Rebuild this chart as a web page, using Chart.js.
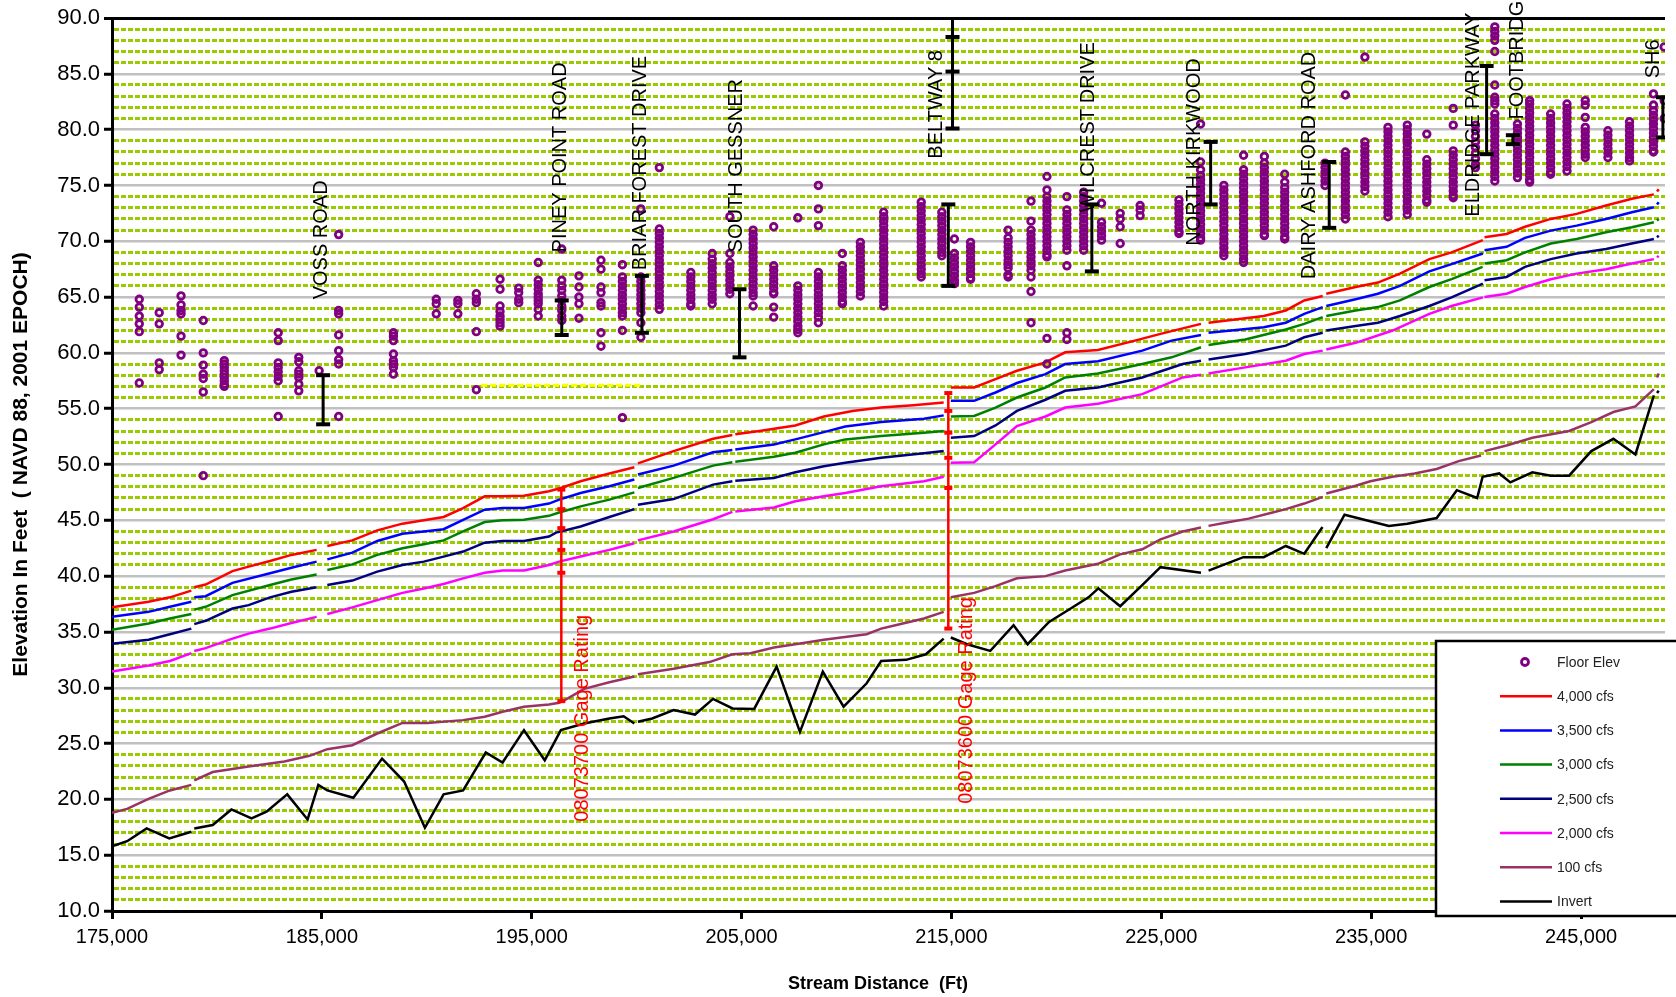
<!DOCTYPE html>
<html>
<head>
<meta charset="utf-8">
<script src="https://cdn.jsdelivr.net/npm/chart.js@4/dist/chart.umd.min.js"></script>
<style>
  html, body { margin: 0; padding: 0; background: #fff; }
  #wrap { width: 1676px; height: 997px; }
</style>
</head>
<body>
<div id="wrap"><canvas id="profile" width="1676" height="997"></canvas></div>
<script>
// stream distance ticks (ft)
const xTicks = [175000, 185000, 195000, 205000, 215000, 225000, 235000, 245000];

// floor elevations: [station, [elevations...]]
const floorElev = [
  [176300, [64.8, 64.1, 63.3, 62.6, 61.9, 57.3]],
  [177250, [63.6, 62.6, 59.1, 58.5]],
  [178290, [65.1, 64.3, 63.8, 63.5, 61.5, 59.8]],
  [179350, [62.9, 60.0, 58.9, 58.1, 57.7, 56.5, 49.0]],
  [180350, [59.3, 59.0, 58.7, 58.4, 58.1, 57.8, 57.5, 57.2, 57.0]],
  [182920, [61.8, 61.1, 59.1, 58.7, 58.3, 57.9, 57.5, 54.3]],
  [183900, [59.6, 59.2, 58.4, 58.1, 57.8, 57.2, 56.6]],
  [184870, [58.4]],
  [185800, [70.6, 63.8, 63.5, 61.6, 60.2, 59.4, 59.0, 54.3]],
  [188410, [61.8, 61.5, 61.1, 59.9, 59.3, 59.0, 58.7, 58.1]],
  [190450, [64.8, 64.4, 63.5]],
  [191480, [64.7, 64.4, 63.5]],
  [192360, [65.3, 64.8, 64.5, 61.9, 56.7]],
  [193490, [66.6, 65.7, 64.2, 63.7, 63.3, 63.0, 62.7, 62.4]],
  [194380, [65.8, 65.4, 64.8, 64.5]],
  [195310, [68.1, 66.5, 66.1, 65.7, 65.3, 65.0, 64.7, 64.4, 63.9, 63.3]],
  [196430, [69.3, 66.5, 66.0, 65.6, 65.1, 64.7, 64.2, 63.8, 63.3, 62.9]],
  [197250, [66.9, 65.9, 65.0, 64.4, 63.1]],
  [198300, [68.3, 67.5, 65.9, 65.4, 64.5, 64.2, 61.8, 60.6]],
  [199320, [67.9, 66.8, 66.4, 66.0, 65.6, 65.2, 64.8, 64.4, 64.0, 63.6, 63.3, 62.0, 54.2]],
  [200200, [72.9, 66.8, 66.4, 66.0, 65.6, 65.2, 64.8, 64.4, 64.0, 63.6, 62.7, 61.4]],
  [201080, [76.6, 71.1, 70.7, 70.3, 69.9, 69.5, 69.1, 68.7, 68.3, 67.9, 67.5, 67.1, 66.7, 66.3, 65.9, 65.5, 65.1, 64.7, 64.3, 63.9]],
  [202580, [67.2, 66.8, 66.4, 66.0, 65.6, 65.2, 64.8, 64.4, 64.2]],
  [203600, [68.9, 68.4, 68.0, 67.6, 67.2, 66.8, 66.4, 66.0, 65.6, 65.2, 64.8, 64.4]],
  [204440, [72.2, 68.9, 68.1, 67.7, 67.3, 66.9, 66.5, 66.1, 65.7, 65.3]],
  [205550, [71.0, 70.6, 70.2, 69.8, 69.4, 69.0, 68.6, 68.2, 67.8, 67.4, 67.0, 66.6, 66.2, 65.8, 65.4, 65.1, 64.2]],
  [206530, [71.3, 67.8, 67.4, 67.0, 66.6, 66.2, 65.8, 65.4, 65.3, 64.1, 63.2]],
  [207680, [72.1, 66.0, 65.6, 65.2, 64.8, 64.4, 64.0, 63.6, 63.2, 62.8, 62.4, 62.1, 61.8]],
  [208660, [75.0, 72.9, 71.4, 67.2, 66.8, 66.4, 66.0, 65.6, 65.2, 64.8, 64.4, 64.0, 63.6, 63.2, 62.7]],
  [209800, [68.9, 67.8, 67.4, 67.0, 66.6, 66.2, 65.8, 65.4, 65.0, 64.6, 64.4]],
  [210660, [69.9, 69.5, 69.1, 68.7, 68.3, 67.9, 67.5, 67.1, 66.7, 66.3, 65.9, 65.5, 65.1]],
  [211770, [72.6, 72.2, 71.8, 71.4, 71.0, 70.6, 70.2, 69.8, 69.4, 69.0, 68.6, 68.2, 67.8, 67.4, 67.0, 66.6, 66.2, 65.8, 65.4, 65.0, 64.6, 64.2]],
  [213560, [73.5, 73.1, 72.7, 72.3, 71.9, 71.5, 71.1, 70.7, 70.3, 69.9, 69.5, 69.1, 68.7, 68.3, 67.9, 67.5, 67.1, 66.8]],
  [214540, [72.6, 72.2, 71.8, 71.4, 71.0, 70.6, 70.2, 69.8, 69.4, 69.0, 68.7]],
  [215140, [70.2, 68.9, 68.5, 68.1, 67.7, 67.3, 66.9, 66.5, 66.2]],
  [215910, [69.9, 69.5, 69.1, 68.7, 68.3, 67.9, 67.5, 67.1, 66.7, 66.6]],
  [217700, [71.0, 70.3, 69.9, 69.5, 69.1, 68.7, 68.3, 67.9, 67.6, 67.0, 66.8]],
  [218790, [73.6, 71.8, 71.0, 70.6, 70.2, 69.8, 69.4, 69.0, 68.6, 68.2, 67.8, 67.4, 66.8, 65.5, 62.7]],
  [219550, [75.8, 74.6, 74.0, 73.6, 73.2, 72.8, 72.4, 72.0, 71.6, 71.2, 70.8, 70.4, 70.0, 69.6, 69.2, 68.8, 68.6, 61.3, 59.0]],
  [220500, [74.0, 72.8, 72.4, 72.0, 71.6, 71.2, 70.8, 70.4, 70.0, 69.6, 69.2, 67.8, 61.8, 61.2]],
  [221300, [74.4, 74.0, 73.6, 73.2, 72.8, 72.4, 72.0, 71.6, 71.2, 70.8, 70.4, 70.0, 69.6, 69.2]],
  [222150, [73.4, 71.7, 71.3, 70.9, 70.5, 70.1]],
  [223040, [72.5, 72.0, 71.3, 69.8]],
  [223990, [73.2, 72.8, 72.3]],
  [225840, [73.7, 73.3, 72.9, 72.5, 72.1, 71.7, 71.3, 70.9, 70.7]],
  [226870, [80.5, 77.1, 76.4, 75.9, 75.5, 75.1, 74.7, 74.3, 73.9, 73.5, 73.1, 72.7, 72.3, 71.9, 71.5, 71.1, 70.7, 70.3, 70.1]],
  [227980, [75.0, 74.6, 74.2, 73.8, 73.4, 73.0, 72.6, 72.2, 71.8, 71.4, 71.0, 70.6, 70.2, 69.8, 69.4, 69.0, 68.7]],
  [228920, [77.7, 76.4, 76.0, 75.6, 75.2, 74.8, 74.4, 74.0, 73.6, 73.2, 72.8, 72.4, 72.0, 71.6, 71.2, 70.8, 70.4, 70.0, 69.6, 69.2, 68.8, 68.4, 68.1]],
  [229910, [77.6, 77.0, 76.6, 76.2, 75.8, 75.4, 75.0, 74.6, 74.2, 73.8, 73.4, 73.0, 72.6, 72.2, 71.8, 71.4, 71.0, 70.6, 70.5]],
  [230880, [76.0, 75.3, 74.8, 74.4, 74.0, 73.6, 73.2, 72.8, 72.4, 72.0, 71.6, 71.2, 70.8, 70.4, 70.2]],
  [232800, [77.0, 76.6, 76.2, 75.8, 75.4, 75.0]],
  [233770, [83.1, 78.0, 77.6, 77.2, 76.8, 76.4, 76.0, 75.6, 75.2, 74.8, 74.4, 74.0, 73.6, 73.2, 72.8, 72.4, 72.0]],
  [234700, [86.5, 78.9, 78.5, 78.1, 77.7, 77.3, 76.9, 76.5, 76.1, 75.7, 75.3, 74.9, 74.5]],
  [235800, [80.2, 79.8, 79.4, 79.0, 78.6, 78.2, 77.8, 77.4, 77.0, 76.6, 76.2, 75.8, 75.4, 75.0, 74.6, 74.2, 73.8, 73.4, 73.0, 72.6, 72.2]],
  [236720, [80.4, 80.0, 79.6, 79.2, 78.8, 78.4, 78.0, 77.6, 77.2, 76.8, 76.4, 76.0, 75.6, 75.2, 74.8, 74.4, 74.0, 73.6, 73.2, 72.8, 72.4]],
  [237650, [79.6, 77.3, 76.9, 76.5, 76.1, 75.7, 75.3, 74.9, 74.5, 74.1, 73.7, 73.5]],
  [238910, [81.9, 80.4, 78.1, 77.7, 77.3, 76.9, 76.5, 76.1, 75.7, 75.3, 74.9, 74.5, 74.1, 73.9]],
  [239970, [80.4, 79.9, 79.4, 78.9, 78.4, 77.9, 77.4, 76.9, 76.6]],
  [240890, [89.2, 88.8, 88.4, 88.0, 87.0, 84.0, 82.9, 82.6, 82.3, 81.4, 81.0, 80.6, 80.2, 79.8, 79.4, 79.0, 78.6, 78.2, 77.8, 77.4, 77.0, 76.6, 76.2, 75.8, 75.4]],
  [241970, [80.5, 80.1, 79.7, 79.3, 78.9, 78.5, 78.1, 77.7, 77.3, 76.9, 76.5, 76.1, 75.7]],
  [242550, [82.6, 82.3, 81.9, 81.5, 81.1, 80.7, 80.3, 79.9, 79.5, 79.1, 78.7, 78.3, 77.9, 77.5, 77.1, 76.7, 76.3, 75.9, 75.5, 75.3]],
  [243550, [81.4, 81.0, 80.6, 80.2, 79.8, 79.4, 79.0, 78.6, 78.2, 77.8, 77.4, 77.0, 76.6, 76.2, 76.0]],
  [244330, [82.3, 81.9, 81.5, 81.1, 80.7, 80.3, 79.9, 79.5, 79.1, 78.7, 78.3, 77.9, 77.5, 77.1, 76.7, 76.3]],
  [245200, [82.6, 82.2, 81.1, 80.2, 79.8, 79.4, 79.0, 78.6, 78.2, 77.8, 77.5]],
  [246280, [79.9, 79.5, 79.1, 78.7, 78.3, 77.9, 77.5]],
  [247310, [80.7, 80.3, 79.9, 79.5, 79.1, 78.7, 78.3, 77.9, 77.5, 77.2]],
  [248450, [83.2, 82.2, 81.7, 81.3, 80.9, 80.5, 80.1, 79.7, 79.3, 78.9, 78.5, 78.1, 78.0]],
  [248960, [87.4, 82.6, 81.0]]
];

// water surface profiles [station, elevation]; null = break in profile
const flow4000 = [[175000,37.2],[176740,37.7],[177760,38.1],[178780,38.7],[178850,null],[178920,39.0],[179460,39.25],[180740,40.45],[181510,40.85],[182530,41.35],[183550,41.9],[184750,42.35],[184850,null],[185260,42.7],[186450,43.2],[187640,44.1],[188840,44.7],[189860,45.0],[190800,45.3],[191730,46.1],[192760,47.15],[193610,47.15],[194630,47.2],[195820,47.6],[196310,47.85],[197330,48.5],[198700,49.2],[199890,49.75],[199975,null],[200060,50.1],[201760,51.2],[203640,52.3],[204560,52.65],[204625,null],[204700,52.7],[205850,53.0],[207560,53.5],[208920,54.3],[210280,54.8],[211650,55.1],[213180,55.3],[214630,55.55],[214800,null],[214970,56.9],[216080,56.9],[217100,57.65],[218120,58.4],[219480,59.15],[220420,60.05],[221980,60.25],[223740,61.1],[224960,61.7],[226890,62.6],[227070,null],[227250,62.7],[229880,63.3],[230930,63.8],[231810,64.7],[232690,65.1],[232780,null],[232860,65.3],[234260,65.9],[235320,66.3],[236370,67.1],[237770,68.4],[238830,69.0],[240320,70.1],[240360,null],[240400,70.35],[241450,70.65],[242330,71.3],[243560,72.0],[244790,72.45],[246190,73.2],[247420,73.8],[248470,74.2],[248560,null],[248620,74.45],[248700,74.65]];
const flow3500 = [[175000,36.35],[176740,36.8],[177760,37.25],[178780,37.7],[178850,null],[178920,38.1],[179460,38.2],[180740,39.4],[182530,40.25],[183550,40.75],[184750,41.3],[184850,null],[185260,41.5],[186450,42.1],[187640,43.15],[188840,43.8],[189860,44.0],[190800,44.2],[191730,45.05],[192760,45.95],[193610,46.1],[194630,46.1],[195820,46.5],[196310,46.85],[197330,47.45],[198700,48.05],[199890,48.65],[199975,null],[200060,49.1],[201760,49.9],[203640,51.1],[204560,51.3],[204625,null],[204700,51.35],[206540,51.8],[207560,52.25],[208920,52.9],[209940,53.4],[211650,53.8],[213690,54.1],[214630,54.4],[214800,null],[214970,55.7],[216080,55.7],[217100,56.45],[218120,57.3],[219480,58.1],[220420,59.0],[221980,59.25],[224090,60.2],[225490,61.1],[226890,61.6],[227070,null],[227250,61.8],[229880,62.3],[230930,62.7],[231810,63.5],[232690,64.1],[232780,null],[232860,64.2],[234260,64.8],[235320,65.3],[236370,66.0],[237770,67.3],[238830,67.95],[240320,68.9],[240360,null],[240400,69.2],[241450,69.5],[242330,70.3],[243560,70.95],[244790,71.4],[246190,72.0],[247420,72.6],[248470,73.05],[248560,null],[248620,73.3],[248700,73.5]];
const flow3000 = [[175000,35.2],[176740,35.75],[177760,36.2],[178780,36.6],[178850,null],[178920,37.0],[179460,37.25],[180740,38.3],[182530,39.2],[183550,39.7],[184750,40.15],[184850,null],[185260,40.55],[186450,41.05],[187640,41.9],[188840,42.5],[189860,42.85],[190800,43.2],[191730,44.0],[192760,44.85],[193610,45.0],[194630,45.05],[195820,45.4],[196310,45.7],[197330,46.25],[198700,46.85],[199890,47.5],[199975,null],[200060,47.9],[201760,48.8],[203640,49.9],[204560,50.2],[204625,null],[204700,50.25],[206540,50.7],[207560,51.05],[208920,51.8],[209940,52.25],[211650,52.55],[213690,52.85],[214630,53.0],[214800,null],[214970,54.3],[216080,54.35],[217100,55.1],[218120,56.0],[219480,56.9],[220420,57.8],[221980,58.15],[224090,59.0],[225490,59.6],[226890,60.5],[227070,null],[227250,60.7],[229000,61.2],[230930,62.1],[231810,62.6],[232690,63.2],[232780,null],[232860,63.3],[234260,63.8],[235320,64.1],[236370,64.7],[237770,65.9],[238830,66.6],[240310,67.7],[240360,null],[240400,68.0],[241450,68.3],[242330,69.0],[243560,69.8],[244790,70.2],[246190,70.8],[247420,71.25],[248470,71.7],[248560,null],[248620,71.85],[248700,72.0]];
const flow2500 = [[175000,33.95],[176740,34.3],[177760,34.8],[178780,35.3],[178850,null],[178920,35.7],[179460,36.0],[180740,37.1],[181510,37.4],[182530,38.1],[183550,38.6],[184750,39.0],[184850,null],[185260,39.2],[186450,39.6],[187640,40.4],[188840,41.0],[189860,41.3],[190800,41.75],[191730,42.2],[192760,43.0],[193610,43.15],[194630,43.15],[195820,43.55],[196160,43.9],[197330,44.45],[198700,45.3],[199890,46.0],[199975,null],[200060,46.4],[201760,46.9],[203640,48.2],[204560,48.5],[204625,null],[204700,48.55],[206540,48.8],[207560,49.3],[208920,49.85],[209940,50.15],[211650,50.6],[213690,51.0],[214630,51.2],[214800,null],[214970,52.4],[216080,52.55],[217100,53.5],[218120,54.8],[219480,55.8],[220420,56.6],[221980,56.9],[224090,57.8],[226020,59.0],[226890,59.3],[227070,null],[227250,59.4],[229000,59.9],[230930,60.65],[231810,61.4],[232690,61.8],[232780,null],[232860,62.0],[234260,62.4],[235320,62.7],[236370,63.3],[237770,64.2],[238830,64.97],[240320,66.2],[240360,null],[240400,66.5],[241450,66.8],[242330,67.7],[243560,68.4],[244790,68.9],[246190,69.3],[247420,69.8],[248470,70.2],[248560,null],[248620,70.35],[248700,70.5]];
const flow2000 = [[175000,31.45],[176740,32.0],[177760,32.4],[178780,33.1],[178850,null],[178920,33.3],[179460,33.55],[180740,34.4],[181510,34.85],[182530,35.3],[183550,35.8],[184750,36.35],[184850,null],[185260,36.6],[186450,37.2],[187640,37.85],[188840,38.5],[189860,38.9],[190800,39.3],[191730,39.8],[192760,40.3],[193610,40.5],[194630,40.5],[195820,41.0],[196310,41.3],[197330,41.75],[198700,42.35],[199890,42.95],[199975,null],[200060,43.2],[201760,44.0],[203640,45.1],[204560,45.75],[204625,null],[204700,45.8],[206540,46.15],[207560,46.7],[208920,47.15],[209940,47.45],[211650,48.05],[213690,48.5],[214630,48.9],[214800,null],[214970,50.15],[216080,50.2],[217100,51.8],[218120,53.45],[219480,54.3],[220420,55.1],[221980,55.45],[224090,56.3],[226020,57.8],[226890,58.05],[227070,null],[227250,58.15],[229000,58.7],[230930,59.3],[231810,59.9],[232690,60.2],[232780,null],[232860,60.3],[234260,60.9],[236020,62.0],[237770,63.5],[238830,64.2],[240320,64.97],[240360,null],[240400,65.0],[241450,65.3],[242330,65.9],[243560,66.6],[244790,67.1],[246190,67.5],[247420,68.0],[248470,68.4],[248560,null],[248620,68.55],[248700,68.7]];
const flow100 = [[175000,18.8],[175720,19.15],[176740,20.05],[177760,20.8],[178780,21.3],[178850,null],[178920,21.7],[179800,22.45],[181510,22.95],[183210,23.4],[184410,23.9],[185260,24.5],[186450,24.85],[187640,25.9],[188840,26.85],[190030,26.85],[191730,27.1],[192760,27.4],[193610,27.85],[194630,28.3],[195820,28.5],[196310,28.65],[196720,29.05],[197500,29.9],[198700,30.5],[199890,31.0],[199975,null],[200060,31.2],[201760,31.7],[203470,32.3],[204560,33.0],[205420,33.1],[206540,33.6],[207560,33.9],[208920,34.3],[210110,34.6],[210960,34.8],[211650,35.3],[212330,35.6],[213690,36.2],[214630,36.8],[214800,null],[214970,38.1],[216080,38.5],[217100,39.1],[218120,39.8],[219480,40.0],[220420,40.5],[221980,41.1],[223040,41.95],[224090,42.4],[224960,43.3],[226020,44.0],[226890,44.35],[227070,null],[227250,44.5],[228110,44.8],[229160,45.15],[230210,45.65],[230930,46.0],[231810,46.5],[232690,47.1],[232780,null],[232860,47.4],[234260,48.1],[234960,48.5],[236020,48.9],[237070,49.2],[238120,49.6],[239170,50.3],[240230,50.8],[240330,null],[240400,51.2],[241450,51.7],[242680,52.4],[244430,53.0],[245490,53.8],[246540,54.7],[247590,55.2],[248470,56.75],[248560,null],[248620,57.8],[248700,58.15]];
const invert = [[175000,15.8],[175720,16.25],[176650,17.4],[177730,16.5],[178780,17.1],[178850,null],[178920,17.4],[179800,17.7],[180690,19.1],[181650,18.3],[182360,18.9],[183350,20.45],[184320,18.2],[184830,21.3],[185260,20.8],[186500,20.15],[187870,23.65],[188920,21.6],[189910,17.45],[190800,20.45],[191730,20.8],[192810,24.2],[193610,23.3],[194630,26.2],[195620,23.5],[196390,26.2],[197500,26.8],[198700,27.25],[199380,27.45],[199890,26.8],[199975,null],[200060,26.95],[200740,27.25],[201760,28.0],[202780,27.6],[203640,29.0],[204570,28.15],[205600,28.1],[206670,31.9],[207780,26.05],[208870,31.45],[209860,28.3],[210960,30.4],[211650,32.4],[212840,32.5],[213780,33.0],[214630,34.4],[214800,null],[214970,34.5],[215740,33.9],[216850,33.3],[217960,35.6],[218630,33.9],[219650,35.9],[220510,36.9],[221530,38.1],[222000,38.9],[223040,37.3],[224090,39.2],[224960,40.8],[226890,40.3],[227070,null],[227250,40.5],[228910,41.7],[229880,41.7],[230930,42.7],[231810,42.0],[232680,44.4],[232780,null],[232860,42.5],[233730,45.5],[235840,44.5],[236720,44.7],[238120,45.2],[239080,47.7],[240050,47.0],[240310,48.9],[241100,49.2],[241630,48.4],[242680,49.3],[243560,49.0],[244430,49.0],[245490,51.2],[246540,52.3],[247590,50.9],[248470,56.2],[248560,null],[248620,56.4],[248700,56.6]];

// bridge markers: [station, top, bottom]
const bridgeBars = [
  [185060, 58.0, 53.6], [196430, 64.7, 61.6], [200250, 66.9, 61.8], [204900, 65.7, 59.6],
  [215050, 90.0, 80.1], [215050, 88.3, 85.2], [214850, 73.3, 66.0], [221690, 73.3, 67.3],
  [227350, 78.9, 73.3], [233000, 77.1, 71.2], [240500, 85.7, 77.8], [241750, 79.5, 78.7],
  [248900, 82.9, 79.3]
];
// bridge names: [text, station, elevation where the text starts]
const bridgeNames = [
  ['VOSS ROAD', 184990, 64.8], ['PINEY POINT ROAD', 196380, 69.0], ['BRIAR FOREST DRIVE', 200190, 67.4],
  ['SOUTH GESSNER', 204740, 69.0], ['BELTWAY 8', 214290, 77.4], ['WILCREST DRIVE', 221530, 72.6],
  ['NORTH KIRKWOOD', 226580, 69.6], ['DAIRY ASHFORD ROAD', 232070, 66.6], ['ELDRIDGE PARKWAY', 239860, 72.2],
  ['FOOTBRIDGE', 241970, 80.9], ['SH6', 248470, 84.6]
];
// USGS gages: rating marks along a station
const gage1 = [[196410,47.75],[196410,46.0],[196410,44.3],[196410,42.35],[196410,40.3],[196410,28.8]];
const gage2 = [[214850,56.4],[214850,54.8],[214850,52.85],[214850,50.6],[214850,47.9],[214850,35.3]];
const gageNames = [['08073700 Gage Rating', 197400, 18.0], ['08073600 Gage Rating', 215700, 19.6]];
const yellowLine = [[192590,57.1],[200230,57.1]];

const FONT = '"Liberation Sans", Arial, sans-serif';
Chart.defaults.font.family = FONT;
Chart.defaults.color = '#000';

const pts = arr => arr.map(p => ({ x: p[0], y: p[1] }));
const floorPts = [];
floorElev.forEach(s => s[1].forEach(v => floorPts.push({ x: s[0], y: v })));
const barPts = [];
bridgeBars.forEach(b => { barPts.push({ x: b[0], y: b[1] }, { x: b[0], y: b[2] }, { x: b[0], y: null }); });

const profile = (label, data, color) => ({
  label, data: pts(data), showLine: true, borderColor: color, backgroundColor: color,
  borderWidth: 2.5, pointRadius: 0, tension: 0, spanGaps: false
});

const datasets = [
  { label: 'bridges', data: barPts, showLine: true, borderColor: '#000', borderWidth: 3,
    pointStyle: 'line', pointRadius: 7, pointBorderWidth: 4, pointBorderColor: '#000', spanGaps: false },
  { label: 'gage1', data: pts(gage1), showLine: true, borderColor: '#ff0000', borderWidth: 2.5,
    pointStyle: 'line', pointRadius: 4, pointBorderWidth: 4, pointBorderColor: '#ff0000' },
  { label: 'gage2', data: pts(gage2), showLine: true, borderColor: '#ff0000', borderWidth: 2.5,
    pointStyle: 'line', pointRadius: 4, pointBorderWidth: 4, pointBorderColor: '#ff0000' },
  { label: 'Floor Elev', data: floorPts, showLine: false, pointStyle: 'circle', pointRadius: 3.3,
    pointBorderWidth: 2.8, pointBorderColor: '#800080', pointBackgroundColor: 'rgba(0,0,0,0)',
    borderColor: '#800080' },
  profile('4,000 cfs', flow4000, '#ff0000'),
  profile('3,500 cfs', flow3500, '#0000ff'),
  profile('3,000 cfs', flow3000, '#008000'),
  profile('2,500 cfs', flow2500, '#000080'),
  profile('2,000 cfs', flow2000, '#ff00ff'),
  profile('100 cfs', flow100, '#993366'),
  profile('Invert', invert, '#000000'),
  { label: 'yellow', data: pts(yellowLine), showLine: true, borderColor: '#ffff00', borderWidth: 3,
    borderDash: [6, 3], pointRadius: 0 }
];

const legendOrder = ['Floor Elev', '4,000 cfs', '3,500 cfs', '3,000 cfs', '2,500 cfs', '2,000 cfs', '100 cfs', 'Invert'];

const annotate = {
  id: 'annotate',
  afterDatasetsDraw(chart) {
    const { ctx, scales: { x, y } } = chart;
    const put = (txt, sx, sy, color) => {
      ctx.save();
      ctx.translate(x.getPixelForValue(sx), y.getPixelForValue(sy));
      ctx.rotate(-Math.PI / 2);
      ctx.fillStyle = color;
      ctx.fillText(txt, 0, 0);
      ctx.restore();
    };
    ctx.save();
    ctx.font = '20px ' + FONT;
    ctx.textAlign = 'left';
    ctx.textBaseline = 'middle';
    bridgeNames.forEach(b => put(b[0], b[1], b[2], '#000'));
    gageNames.forEach(g => put(g[0], g[1], g[2], '#ff0000'));
    // x axis title
    ctx.font = 'bold 18px ' + FONT;
    ctx.textAlign = 'center';
    ctx.fillStyle = '#000';
    ctx.fillText('Stream Distance  (Ft)', 878, 984);
    ctx.restore();
  }
};

const boxLegend = {
  id: 'boxLegend',
  afterDraw(chart) {
    const ctx = chart.ctx;
    const left = 1436, top = 641, bottom = 916;
    ctx.save();
    ctx.fillStyle = '#fff';
    ctx.fillRect(left, top, 260, bottom - top);
    ctx.strokeStyle = '#000';
    ctx.lineWidth = 2.5;
    ctx.strokeRect(left, top, 260, bottom - top);
    ctx.font = '14px ' + FONT;
    ctx.textBaseline = 'middle';
    ctx.textAlign = 'left';
    legendOrder.forEach((name, i) => {
      const ds = chart.data.datasets.find(d => d.label === name);
      const cy = 662 + i * 34.2;
      if (name === 'Floor Elev') {
        ctx.beginPath();
        ctx.arc(1525, cy, 3.5, 0, Math.PI * 2);
        ctx.lineWidth = 2.8;
        ctx.strokeStyle = ds.pointBorderColor;
        ctx.stroke();
      } else {
        ctx.beginPath();
        ctx.moveTo(1500, cy);
        ctx.lineTo(1552, cy);
        ctx.lineWidth = 2.5;
        ctx.strokeStyle = ds.borderColor;
        ctx.stroke();
      }
      ctx.fillStyle = '#222';
      ctx.fillText(name, 1557, cy + 1);
    });
    ctx.restore();
  }
};

new Chart(document.getElementById('profile'), {
  type: 'scatter',
  data: { datasets },
  options: {
    responsive: false,
    animation: false,
    events: [],
    devicePixelRatio: 1,
    layout: { padding: { top: 18, right: 0, left: 0, bottom: 0 } },
    plugins: { legend: { display: false }, tooltip: { enabled: false } },
    scales: {
      x: {
        type: 'linear',
        min: 175000,
        max: 249000,
        afterBuildTicks: scale => { scale.ticks = xTicks.map(v => ({ value: v })); },
        afterFit: scale => { scale.height = 86; },
        ticks: {
          autoSkip: false, maxRotation: 0, padding: 6,
          font: { size: 20 }, color: '#000',
          callback: v => v.toLocaleString('en-US')
        },
        grid: { drawOnChartArea: false, drawTicks: true, tickLength: 8, tickColor: '#000', tickWidth: 3 },
        border: { display: true, color: '#000', width: 3 }
      },
      y: {
        min: 10,
        max: 90,
        afterFit: scale => { scale.width = 112; },
        ticks: {
          stepSize: 1, autoSkip: false, padding: 4,
          font: { size: 22 }, color: '#000',
          callback: v => (v % 5 === 0 ? v.toFixed(1) : '')
        },
        grid: {
          drawTicks: true,
          tickLength: 8,
          tickWidth: 3,
          tickColor: c => (c.tick && c.tick.value % 5 === 0 ? '#000' : 'rgba(0,0,0,0)'),
          color: c => {
            if (!c.tick) return '#c0c0c0';
            const v = c.tick.value;
            if (v === 90) return '#000';
            if (v === 10) return 'rgba(0,0,0,0)';
            return v % 5 === 0 ? '#c0c0c0' : '#99cc00';
          },
          lineWidth: c => (c.tick && c.tick.value % 5 === 0 ? (c.tick.value === 90 ? 3 : 2.5) : 3)
        },
        border: {
          display: true, color: '#000', width: 3,
          dash: c => (c.tick && c.tick.value % 5 !== 0 ? [5, 2] : [])
        },
        title: {
          display: true, text: 'Elevation In Feet  ( NAVD 88, 2001 EPOCH)',
          font: { size: 21, weight: 'bold' }, color: '#000', padding: { top: 9, bottom: 0 }
        }
      }
    }
  },
  plugins: [annotate, boxLegend]
});
</script>
</body>
</html>
